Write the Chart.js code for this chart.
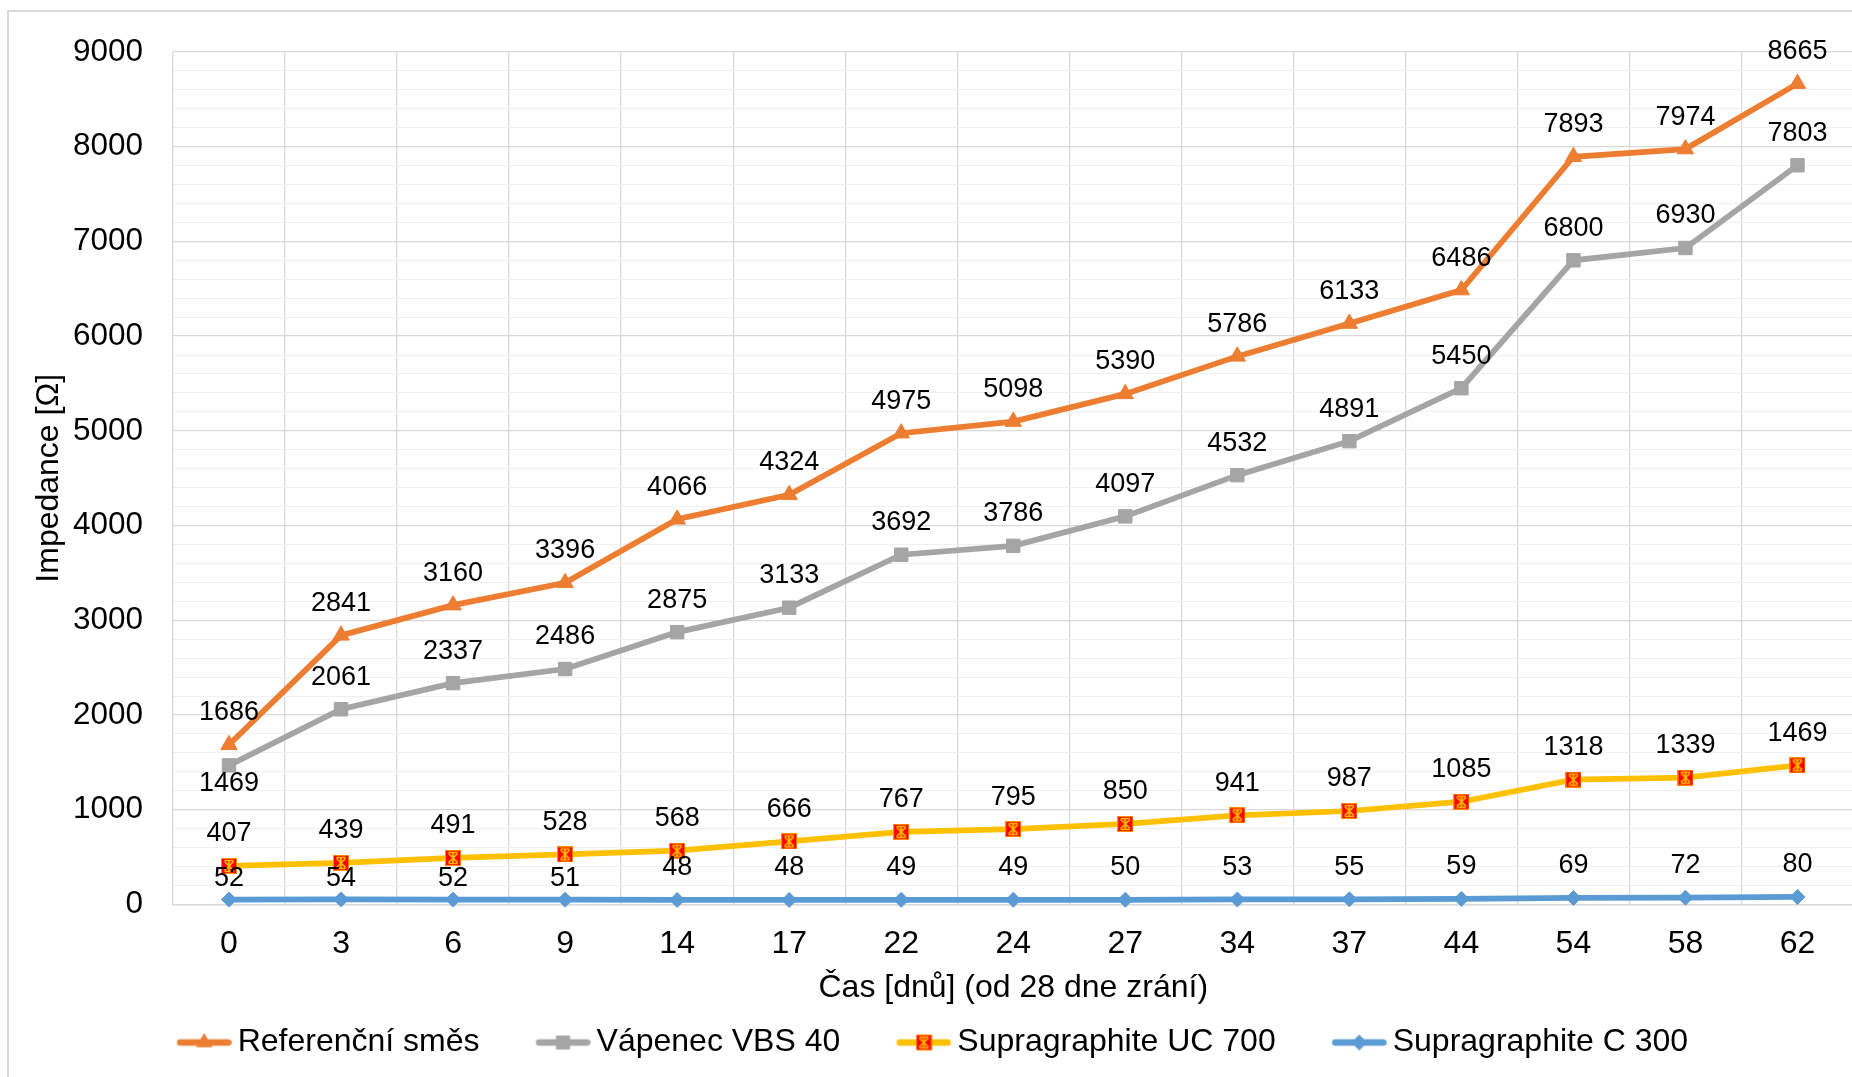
<!DOCTYPE html>
<html>
<head>
<meta charset="utf-8">
<script src="https://cdn.jsdelivr.net/npm/chart.js@4/dist/chart.umd.min.js"></script>
<style>
  html, body { margin: 0; padding: 0; background: #fff; overflow: hidden; width: 1852px; height: 1077px; }
  #frame { position: absolute; left: 7px; top: 10px; width: 1900px; height: 1100px;
           border-left: 2px solid #d9d9d9; border-top: 2px solid #d9d9d9; box-sizing: border-box; }
  #chart { position: absolute; left: -40px; top: 3px; }
</style>
</head>
<body>
<div id="frame"></div>
<canvas id="chart" width="1904" height="1074"></canvas>
<script>
// Days of measurement (counted from day 28 of curing)
const days = ['0', '3', '6', '9', '14', '17', '22', '24', '27', '34', '37', '44', '54', '58', '62'];

// Impedance [Ω] per mixture
const referencniSmes = [1686, 2841, 3160, 3396, 4066, 4324, 4975, 5098, 5390, 5786, 6133, 6486, 7893, 7974, 8665];
const vapenecVBS40   = [1469, 2061, 2337, 2486, 2875, 3133, 3692, 3786, 4097, 4532, 4891, 5450, 6800, 6930, 7803];
const supraUC700     = [407, 439, 491, 528, 568, 666, 767, 795, 850, 941, 987, 1085, 1318, 1339, 1469];
const supraC300      = [52, 54, 52, 51, 48, 48, 49, 49, 50, 53, 55, 59, 69, 72, 80];

const seriesNames = ['Referenční směs', 'Vápenec VBS 40', 'Supragraphite UC 700', 'Supragraphite C 300'];

// Value axis range
const yMin = 0, yMax = 9000, yMajor = 1000, yMinor = 200;

const ORANGE = '#ED7D31', GRAY = '#A5A5A5', GOLD = '#FFC000', BLUE = '#5B9BD5', RED = '#FF0000';
const FONT = '"Liberation Sans", Arial, sans-serif';
const BIG = 32;

Chart.defaults.font.family = FONT;
Chart.defaults.color = '#000';

// Red square with a yellow asterisk, used for the UC 700 series
function starMarker(size) {
  const c = document.createElement('canvas');
  c.width = c.height = size;
  const g = c.getContext('2d');
  g.fillStyle = RED;
  g.fillRect(0, 0, size, size);
  g.strokeStyle = GOLD;
  g.lineWidth = 1.7;
  const a = 3.5, b = size - 3.5;
  g.beginPath();
  g.moveTo(a, a); g.lineTo(b, b);
  g.moveTo(b, a); g.lineTo(a, b);
  g.moveTo(size / 2, 2.5); g.lineTo(size / 2, size - 2.5);
  g.moveTo(a, 2.5); g.lineTo(b, 2.5);
  g.moveTo(a, size - 2.5); g.lineTo(b, size - 2.5);
  g.stroke();
  g.strokeStyle = '#FF8A00';
  g.lineWidth = 1;
  g.strokeRect(0.5, 0.5, size - 1, size - 1);
  return c;
}
const ucMarker = starMarker(16);

// Legend swatch: short line with the series marker, left part kept empty as spacing
function swatch(color, marker) {
  const gap = 55.5, len = 56, W = gap + len, H = 24;
  const c = document.createElement('canvas');
  c.width = W; c.height = H;
  const g = c.getContext('2d');
  const cx = gap + len / 2, cy = H / 2;
  g.strokeStyle = color;
  g.lineWidth = 6.5;
  g.lineCap = 'round';
  g.beginPath(); g.moveTo(gap + 4, cy); g.lineTo(W - 4, cy); g.stroke();
  g.fillStyle = color;
  g.beginPath();
  if (marker === 'triangle') {
    const r = 9.5;
    g.moveTo(cx, cy - r);
    g.lineTo(cx + r * 0.866, cy + r * 0.5);
    g.lineTo(cx - r * 0.866, cy + r * 0.5);
    g.closePath(); g.fill();
  } else if (marker === 'rect') {
    g.rect(cx - 7, cy - 7, 14, 14); g.fill();
  } else if (marker === 'rectRot') {
    const r = 8;
    g.moveTo(cx, cy - r); g.lineTo(cx + r, cy); g.lineTo(cx, cy + r); g.lineTo(cx - r, cy);
    g.closePath(); g.fill();
  } else {
    g.drawImage(marker, cx - marker.width / 2, cy - marker.height / 2);
  }
  return c;
}
const swatches = [
  swatch(ORANGE, 'triangle'),
  swatch(GRAY, 'rect'),
  swatch(GOLD, ucMarker),
  swatch(BLUE, 'rectRot')
];
const swatchBox = swatches[0].width - 20;

// Value labels drawn next to every point
const pointLabels = {
  id: 'pointLabels',
  afterDatasetsDraw(chart, args, opts) {
    const ctx = chart.ctx;
    ctx.save();
    ctx.font = opts.size + 'px ' + FONT;
    ctx.fillStyle = opts.color;
    ctx.textAlign = 'center';
    ctx.textBaseline = 'middle';
    chart.data.datasets.forEach((ds, di) => {
      const meta = chart.getDatasetMeta(di);
      if (meta.hidden) return;
      meta.data.forEach((pt, i) => {
        let dy = -opts.above;
        if (ds.labelBelow && ds.labelBelow.includes(i)) dy = opts.below;
        else if (ds.labelNear && ds.labelNear.includes(i)) dy = -opts.near;
        ctx.fillText(String(ds.data[i]), pt.x, pt.y + dy);
      });
    });
    ctx.restore();
  }
};

function series(label, data, color, style, radius, extra) {
  return Object.assign({
    label, data,
    borderColor: color,
    backgroundColor: color,
    borderWidth: 5.75,
    pointStyle: style,
    pointRadius: radius,
    pointHoverRadius: radius,
    pointBackgroundColor: color,
    pointBorderColor: color,
    pointBorderWidth: 1,
    tension: 0,
    clip: false
  }, extra || {});
}

new Chart(document.getElementById('chart'), {
  type: 'line',
  data: {
    labels: days,
    datasets: [
      series(seriesNames[0], referencniSmes, ORANGE, 'triangle', 9.5),
      series(seriesNames[1], vapenecVBS40, GRAY, 'rect', 9.5, { labelBelow: [0] }),
      series(seriesNames[2], supraUC700, GOLD, ucMarker, 8),
      series(seriesNames[3], supraC300, BLUE, 'rectRot', 7.5, { labelNear: [0, 1, 2, 3] })
    ]
  },
  options: {
    responsive: false,
    animation: false,
    layout: { padding: { left: 0, right: 5.3, top: 20, bottom: 8.5 } },
    scales: {
      x: {
        type: 'category',
        offset: true,
        afterFit(s) { s.height = 112; },
        grid: { offset: true, drawTicks: false, color: '#d9d9d9', lineWidth: 1.3 },
        border: { color: '#d9d9d9', width: 1.5 },
        ticks: { padding: 20, color: '#000', font: { size: BIG } },
        title: {
          display: true, text: 'Čas [dnů] (od 28 dne zrání)', color: '#000',
          font: { size: BIG }, padding: { top: 0, bottom: 9.4 }
        }
      },
      y: {
        min: yMin, max: yMax,
        afterFit(s) { s.width = 213; },
        grid: {
          drawTicks: false,
          color: c => (c.tick && c.tick.value % yMajor === 0) ? '#d9d9d9' : '#f0f0f0',
          lineWidth: c => (c.tick && c.tick.value % yMajor === 0) ? 1.3 : 1
        },
        border: { display: false },
        ticks: {
          stepSize: yMinor, autoSkip: false, padding: 30, color: '#000', font: { size: 31.5 },
          callback: v => (v % yMajor === 0 ? String(v) : '')
        },
        title: {
          display: true, text: 'Impedance [Ω]', color: '#000',
          font: { size: BIG }, padding: { top: 70, bottom: 0 }
        }
      }
    },
    plugins: {
      tooltip: { enabled: false },
      legend: {
        position: 'bottom',
        labels: {
          usePointStyle: true,
          pointStyleWidth: swatchBox,
          padding: 10,
          color: '#000',
          font: { size: BIG },
          generateLabels(chart) {
            return chart.data.datasets.map((ds, i) => ({
              text: ds.label,
              pointStyle: swatches[i],
              datasetIndex: i,
              hidden: false,
              lineWidth: 0,
              fillStyle: 'transparent',
              strokeStyle: 'transparent',
              fontColor: '#000'
            }));
          }
        }
      },
      pointLabels: { size: 27, color: '#000', above: 32, below: 18, near: 21 }
    }
  },
  plugins: [pointLabels]
});
</script>
</body>
</html>
